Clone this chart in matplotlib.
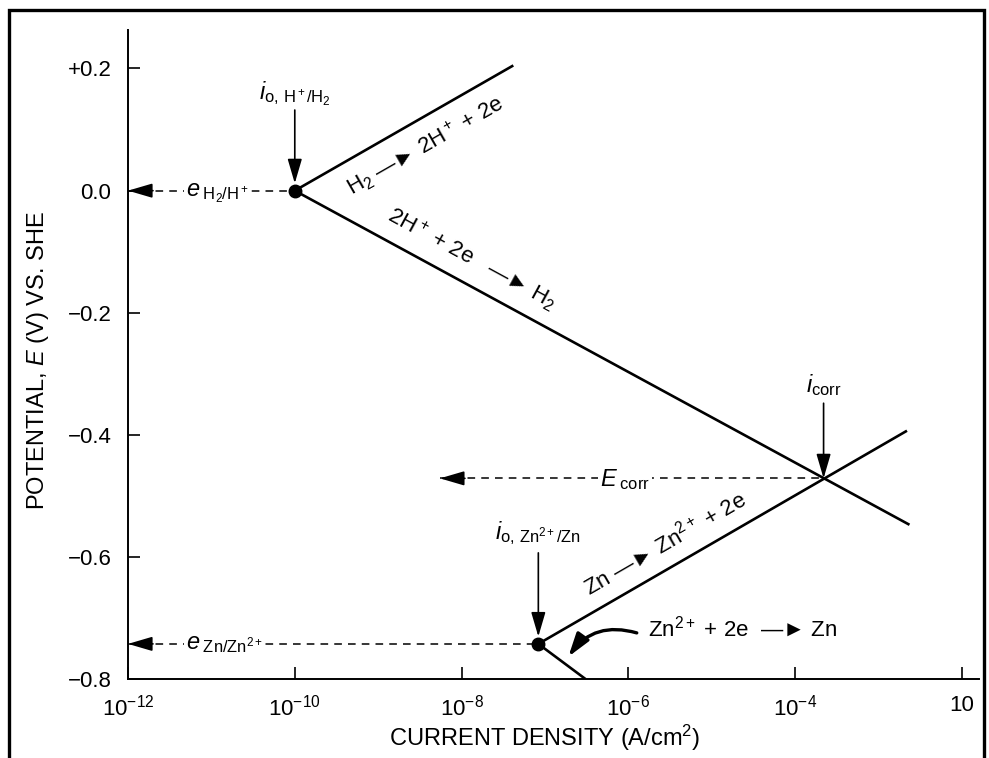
import matplotlib
matplotlib.use('Agg')
import matplotlib.pyplot as plt
import numpy as np
from matplotlib.patches import Rectangle
from matplotlib.ticker import FixedLocator, FixedFormatter, NullLocator

plt.rcParams['font.family'] = ['Liberation Sans', 'DejaVu Sans']
plt.rcParams['mathtext.fontset'] = 'custom'
plt.rcParams['mathtext.rm'] = 'Liberation Sans'
plt.rcParams['mathtext.it'] = 'Liberation Sans:italic'
plt.rcParams['mathtext.bf'] = 'Liberation Sans:bold'

# hydrogen electrode: exchange point, end of anodic and cathodic Tafel lines
h_i0, h_e0 = 1e-10, 0.0
h_ox_i, h_ox_e = 10**-7.38, 0.205
h_red_i, h_red_e = 10**-2.63, -0.547

# zinc electrode
zn_i0, zn_e0 = 10**-7.08, -0.742
zn_ox_i, zn_ox_e = 10**-2.66, -0.393
zn_red_i, zn_red_e = 10**-6.51, -0.800

# mixed (corrosion) potential
i_corr, e_corr = 10**-3.66, -0.471

x_ticks = [1e-12, 1e-10, 1e-8, 1e-6, 1e-4, 1e-2]
x_labels = ['$10^{-12}$', '$10^{-10}$', '$10^{-8}$', '$10^{-6}$', '$10^{-4}$', '10']
y_ticks = [0.2, 0.0, -0.2, -0.4, -0.6, -0.8]
y_labels = ['+0.2', '0.0', '\u22120.2', '\u22120.4', '\u22120.6', '\u22120.8']

ARROW = '\u2014\u25BA'

fig = plt.figure(figsize=(9.89, 7.58), dpi=100)
ax = fig.add_axes([0.1294, 0.1038, 0.8602, 0.8566])
ax.set_xscale('log')
ax.set_xlim(1e-12, 10**-1.8)
ax.set_ylim(-0.8, 0.263)

for s in ['top', 'right']:
    ax.spines[s].set_visible(False)
for s in ['left', 'bottom']:
    ax.spines[s].set_linewidth(1.4)

ax.xaxis.set_major_locator(FixedLocator(x_ticks))
ax.xaxis.set_major_formatter(FixedFormatter(x_labels))
ax.xaxis.set_minor_locator(NullLocator())
ax.set_yticks(y_ticks)
ax.set_yticklabels(y_labels)
ax.tick_params(direction='in', length=8.5, width=1.2, labelsize=16)
ax.tick_params(axis='x', pad=11)
ax.tick_params(axis='y', pad=12)

line_kw = dict(color='k', lw=1.9, solid_capstyle='butt')
ax.plot([h_i0, h_ox_i], [h_e0, h_ox_e], **line_kw)
ax.plot([h_i0, h_red_i], [h_e0, h_red_e], **line_kw)
ax.plot([zn_i0, zn_ox_i], [zn_e0, zn_ox_e], **line_kw)
ax.plot([zn_i0, zn_red_i], [zn_e0, zn_red_e], **line_kw)
ax.plot([h_i0, zn_i0], [h_e0, zn_e0], 'ko', ms=9)

head = dict(arrowstyle='-|>,head_length=0.75,head_width=0.22', color='k',
            lw=1.2, shrinkA=0, shrinkB=0, mutation_scale=20)


def dashed_arrow(x_from, x_to, y):
    ax.plot([x_to, x_from], [y, y], color='k', lw=1.1, ls=(0, (5, 4)))
    ax.annotate('', xy=(x_to, y), xytext=(x_to * 10**0.3, y), arrowprops=head)


def down_arrow(x, y_from, y_to):
    ax.annotate('', xy=(x, y_to), xytext=(x, y_from), arrowprops=head)


white = dict(facecolor='white', edgecolor='none', pad=1.5)

# equilibrium potentials and corrosion potential
dashed_arrow(h_i0, 1e-12, h_e0)
ax.text(10**-11.3, h_e0 - 0.009, r'$e_{\;\mathrm{H_2/H^+}}$', fontsize=17,
        ha='left', va='baseline', bbox=white)
dashed_arrow(zn_i0, 1e-12, zn_e0)
ax.text(10**-11.3, zn_e0 - 0.009, r'$e_{\;\mathrm{Zn/Zn^{2+}}}$', fontsize=17,
        ha='left', va='baseline', bbox=white)
dashed_arrow(i_corr, 10**-8.26, e_corr)
ax.text(10**-6.34, e_corr - 0.012, r'$E_{\;\mathrm{corr}}$', fontsize=17,
        ha='left', va='baseline', bbox=white)

# exchange current densities and corrosion current
ax.text(h_i0, 0.158, r'$i_{\mathrm{o,\,H^+/H_2}}$', fontsize=17, ha='center', va='center')
down_arrow(h_i0, 0.132, h_e0 + 0.012)
ax.text(zn_i0, -0.561, r'$i_{\mathrm{o,\,Zn^{2+}/Zn}}$', fontsize=17, ha='center', va='center')
down_arrow(zn_i0, -0.593, zn_e0 + 0.012)
ax.text(i_corr, -0.318, r'$i_{\mathrm{corr}}$', fontsize=17, ha='center', va='center')
down_arrow(i_corr, -0.348, e_corr)


def slope_angle(x0, y0, x1, y1):
    p0 = ax.transData.transform((x0, y0))
    p1 = ax.transData.transform((x1, y1))
    return np.degrees(np.arctan2(p1[1] - p0[1], p1[0] - p0[0]))


a_hox = slope_angle(h_i0, h_e0, h_ox_i, h_ox_e)
a_hred = slope_angle(h_i0, h_e0, h_red_i, h_red_e)
a_znox = slope_angle(zn_i0, zn_e0, zn_ox_i, zn_ox_e)

ax.text(10**-8.43, 0.073, 'H$_2$ ' + ARROW + ' 2H$^+$ + 2e', fontsize=16,
        rotation=a_hox, rotation_mode='anchor', ha='center', va='center')
ax.text(10**-7.88, -0.112, '2H$^+$ + 2e   ' + ARROW + ' H$_2$', fontsize=16,
        rotation=a_hred, rotation_mode='anchor', ha='center', va='center')
ax.text(10**-5.56, -0.577, 'Zn ' + ARROW + ' Zn$^{2+}$ + 2e', fontsize=16,
        rotation=a_znox, rotation_mode='anchor', ha='center', va='center')
ax.text(10**-5.77, -0.716, 'Zn$^{2+}$ + 2e  ' + ARROW + ' Zn', fontsize=16,
        ha='left', va='center')
ax.annotate('', xy=(10**-6.72, -0.763), xytext=(10**-5.90, -0.724),
            arrowprops=dict(arrowstyle='-|>,head_length=0.7,head_width=0.22',
                            connectionstyle='arc3,rad=0.35', color='k', lw=2.4,
                            shrinkA=0, shrinkB=0, mutation_scale=20))

fig.text(0.0385, 0.525, 'POTENTIAL, $E$ (V) VS. SHE', rotation=90,
         ha='center', va='center', fontsize=17)
fig.text(0.551, 0.026, 'CURRENT DENSITY (A/cm$^2$)', ha='center', va='center',
         fontsize=17)

fig.add_artist(Rectangle((0.0096, -0.1), 0.985, 1.0868, transform=fig.transFigure,
                         fill=False, edgecolor='k', lw=2.4))

fig.savefig('out.png', dpi=100)
